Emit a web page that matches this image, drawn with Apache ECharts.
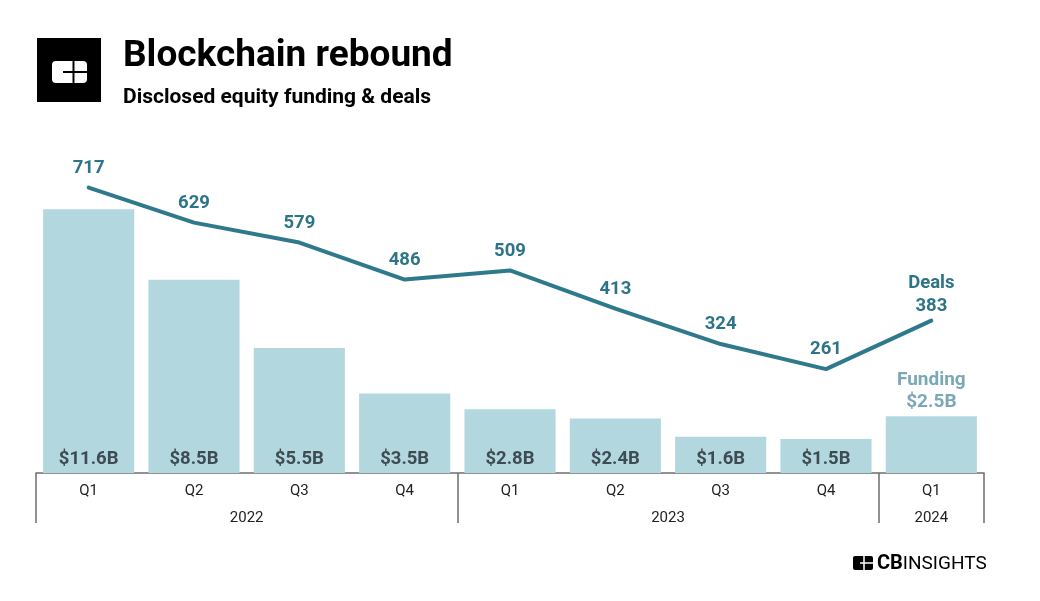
<!DOCTYPE html>
<html>
<head>
<meta charset="utf-8">
<script src="https://cdn.jsdelivr.net/npm/echarts@6/dist/echarts.min.js"></script>
<style>
html,body{margin:0;padding:0;background:#fff;}
#chart{width:1040px;height:601px;}
</style>
</head>
<body>
<div id="chart"></div>
<script>
const quarters = ['Q1','Q2','Q3','Q4','Q1','Q2','Q3','Q4','Q1'];
const years = ['2022','2023','2024'];
const yearSpans = [4, 4, 1];
const funding = [11.6, 8.5, 5.5, 3.5, 2.8, 2.4, 1.6, 1.5, 2.5];
const deals = [717, 629, 579, 486, 509, 413, 324, 261, 383];

const FONT = 'Roboto, "Noto Sans", sans-serif';
const BAR_COLOR = '#b3d7df';
const LINE_COLOR = '#2e7a8c';

// year group boundaries and centers (derived from spans)
const bounds = [0];
const centers = [];
yearSpans.forEach((s, i) => { centers.push(bounds[i] + s / 2); bounds.push(bounds[i] + s); });

const last = funding.length - 1;
const barData = funding.map((v, i) => {
  if (i === last) {
    return { value: v, label: { position: 'top', distance: 3, color: '#7aa8b6', fontSize: 19,
      formatter: 'Funding\n$' + v + 'B', lineHeight: 22 } };
  }
  return v;
});
const lineData = deals.map((v, i) => {
  if (i === last) {
    return { value: v, label: { formatter: 'Deals\n' + v, lineHeight: 23, distance: 3 } };
  }
  return v;
});

const chart = echarts.init(document.getElementById('chart'), null, { renderer: 'canvas' });
chart.setOption({
  backgroundColor: '#fff',
  animation: false,
  grid: { left: 36, right: 56, top: 73, bottom: 128, containLabel: false },
  xAxis: [
    {
      type: 'category', data: quarters, boundaryGap: true,
      axisLine: { show: true, lineStyle: { color: '#6e6e6e', width: 1.5 } },
      axisTick: { show: false },
      axisLabel: { margin: 11, fontFamily: FONT, fontSize: 15, color: '#222' },
      splitLine: { show: false }
    },
    {
      type: 'value', min: 0, max: quarters.length, position: 'bottom',
      axisLine: { show: false },
      splitLine: { show: false },
      axisTick: { show: true, inside: false, length: 50, customValues: bounds,
        lineStyle: { color: '#6e6e6e', width: 1.5 } },
      axisLabel: { show: true, margin: 38, customValues: centers, fontFamily: FONT, fontSize: 15, color: '#222',
        formatter: (v) => { const k = centers.indexOf(v); return k >= 0 ? years[k] : ''; } }
    }
  ],
  yAxis: [
    { type: 'value', min: 0, max: 17.6, show: false, splitLine: { show: false } },
    { type: 'value', min: 0, max: 1005, show: false, splitLine: { show: false } }
  ],
  series: [
    {
      type: 'bar', name: 'Funding', data: barData, xAxisIndex: 0, yAxisIndex: 0,
      barCategoryGap: '13.5%',
      itemStyle: { color: BAR_COLOR },
      label: { show: true, position: 'insideBottom', distance: 4, fontFamily: FONT,
        fontSize: 18.5, fontWeight: 'bold', color: '#3d4b52',
        formatter: (p) => '$' + p.value + 'B' },
      z: 2
    },
    {
      type: 'line', name: 'Deals', data: lineData, xAxisIndex: 0, yAxisIndex: 1,
      showSymbol: true, symbol: 'circle', symbolSize: 0.01,
      lineStyle: { color: LINE_COLOR, width: 4, cap: 'round', join: 'round' },
      itemStyle: { color: LINE_COLOR },
      label: { show: true, position: 'top', distance: 10, fontFamily: FONT,
        fontSize: 18.5, fontWeight: 'bold', color: '#2d7489' },
      labelLayout: { hideOverlap: false },
      z: 3
    }
  ],
  graphic: [
    { type: 'rect', shape: { x: 37, y: 38, width: 64, height: 64 }, style: { fill: '#000' } },
    { type: 'rect', shape: { x: 52, y: 61, width: 35, height: 22, r: 4 }, style: { fill: '#fff' } },
    { type: 'line', shape: { x1: 73.5, y1: 60, x2: 73.5, y2: 84 }, style: { stroke: '#000', lineWidth: 2 } },
    { type: 'line', shape: { x1: 63, y1: 72, x2: 88, y2: 72 }, style: { stroke: '#000', lineWidth: 2 } },
    { type: 'text', style: { x: 123, y: 57, text: 'Blockchain rebound', font: 'bold 37px ' + FONT,
      fill: '#000', textVerticalAlign: 'middle' } },
    { type: 'text', style: { x: 123, y: 98, text: 'Disclosed equity funding & deals', font: 'bold 21px ' + FONT,
      fill: '#000', textVerticalAlign: 'middle' } },
    { type: 'rect', shape: { x: 853, y: 556, width: 20, height: 14, r: 2 }, style: { fill: '#000' } },
    { type: 'line', shape: { x1: 864, y1: 555, x2: 864, y2: 571 }, style: { stroke: '#fff', lineWidth: 1.5 } },
    { type: 'line', shape: { x1: 860, y1: 563, x2: 874, y2: 563 }, style: { stroke: '#fff', lineWidth: 1.5 } },
    { type: 'text', style: { x: 877, y: 564, text: '{b|CB}{r|INSIGHTS}', textVerticalAlign: 'middle',
      rich: {
        b: { fontFamily: FONT, fontWeight: 'bold', fontSize: 20, fill: '#000', color: '#000' },
        r: { fontFamily: FONT, fontWeight: 'normal', fontSize: 19, fill: '#000', color: '#000' }
      } } }
  ]
});
</script>
</body>
</html>
